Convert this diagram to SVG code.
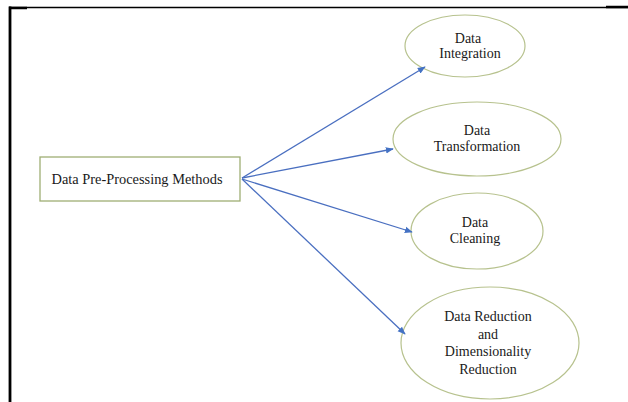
<svg xmlns="http://www.w3.org/2000/svg" width="628" height="402" viewBox="0 0 628 402">
<defs>
<marker id="ah" viewBox="0 0 10 10" refX="9" refY="5" markerWidth="8" markerHeight="8" markerUnits="userSpaceOnUse" orient="auto">
<path d="M0,1 L10,5 L0,9 z" fill="#4472c4"/>
</marker>
</defs>
<style>
.t{font-family:"Liberation Serif","Times New Roman",serif;font-size:14px;fill:#1a1a1a;text-anchor:middle}
.el{fill:#ffffff;stroke:#b7c28e;stroke-width:1.2}
.bx{fill:#ffffff;stroke:#9fae74;stroke-width:1.3}
.c{stroke:#4a6fc0;stroke-width:1.3;fill:none;marker-end:url(#ah)}
</style>
<rect width="628" height="402" fill="#ffffff"/>
<g id="frame">
<line x1="9" y1="7.5" x2="628" y2="7.5" stroke="#000" stroke-width="1.5"/>
<line x1="9" y1="8" x2="27" y2="8" stroke="#000" stroke-width="2.5"/>
<line x1="606" y1="7" x2="628" y2="7" stroke="#000" stroke-width="2.5"/>
<line x1="10" y1="6.5" x2="10" y2="402" stroke="#000" stroke-width="2.8"/>
</g>
<g id="integration">
<ellipse class="el" cx="465" cy="46" rx="60" ry="31"/>
<text class="t" x="468" y="43">Data</text>
<text class="t" x="470" y="58">Integration</text>
</g>
<g id="transformation">
<ellipse class="el" cx="477" cy="139" rx="84" ry="37"/>
<text class="t" x="477" y="135">Data</text>
<text class="t" x="477" y="151">Transformation</text>
</g>
<g id="cleaning">
<ellipse class="el" cx="477" cy="231" rx="66" ry="38"/>
<text class="t" x="475" y="227">Data</text>
<text class="t" x="475" y="243">Cleaning</text>
</g>
<g id="reduction">
<ellipse class="el" cx="490" cy="343" rx="89" ry="56"/>
<text class="t" x="488" y="321">Data Reduction</text>
<text class="t" x="488" y="339">and</text>
<text class="t" x="488" y="356">Dimensionality</text>
<text class="t" x="488" y="374">Reduction</text>
</g>
<g id="methods">
<rect class="bx" x="40" y="157" width="200" height="44"/>
<text class="t" x="137" y="184" textLength="171" lengthAdjust="spacingAndGlyphs">Data Pre-Processing  Methods</text>
</g>
<g id="connectors">
<line class="c" x1="242" y1="178" x2="425" y2="67"/>
<line class="c" x1="242" y1="178" x2="393" y2="149"/>
<line class="c" x1="242" y1="179" x2="412" y2="232"/>
<line class="c" x1="242" y1="179" x2="405" y2="334"/>
</g>
</svg>
